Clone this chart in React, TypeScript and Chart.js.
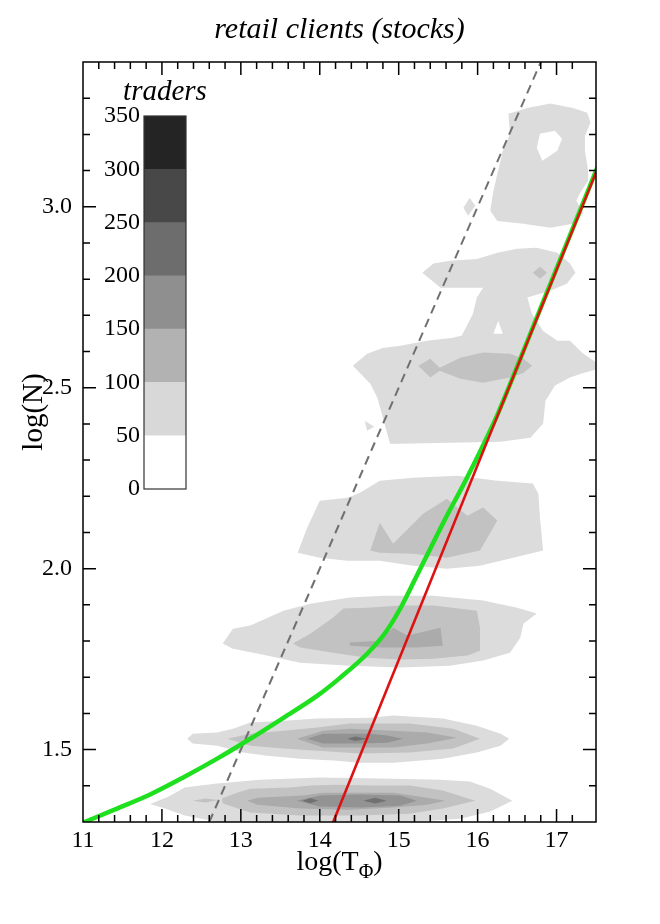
import React, { useEffect, useRef } from 'react';
import { Chart, registerables } from 'chart.js';

Chart.register(...registerables);

const FONT = "'Liberation Serif', 'Times New Roman', serif";

// axes
const X_MIN = 11;
const X_MAX = 17.5;
const Y_MIN = 1.3;
const Y_MAX = 3.4;
const X_STEP = 0.2;
const Y_STEP = 0.1;
const X_MAJOR = 1;
const Y_MAJOR = 0.5;

const TITLE = 'retail clients (stocks)';
const X_LABEL_MAIN = 'log(T';
const X_LABEL_SUB = 'Φ';
const X_LABEL_END = ')';
const Y_LABEL = 'log(N)';
const COLORBAR_TITLE = 'traders';

// contour level fills (index = level, 0 = empty/hole)
const LEVEL_COLORS = ['#ffffff', '#dcdcdc', '#c2c2c2', '#ababab', '#939393', '#717171'];

// colour bar
const CB_EDGES = [0, 50, 100, 150, 200, 250, 300, 350];
const CB_COLORS = ['#ffffff', '#d8d8d8', '#b2b2b2', '#8f8f8f', '#6d6d6d', '#484848', '#242424'];

type P = [number, number];

// ---- band near log N = 1.36
const b1L1: P[] = [[11.85,1.350],[12.08,1.370],[12.29,1.395],[12.67,1.406],[13.24,1.417],[14.00,1.423],[14.76,1.420],[15.52,1.417],[15.90,1.412],[16.16,1.392],[16.44,1.359],[16.16,1.329],[15.78,1.309],[15.02,1.298],[13.75,1.296],[12.76,1.298],[12.29,1.318],[12.04,1.337]];
const b1L2: P[] = [[12.76,1.365],[12.95,1.381],[13.12,1.392],[13.62,1.395],[13.88,1.401],[14.22,1.403],[14.64,1.401],[15.14,1.401],[15.56,1.387],[15.97,1.359],[15.56,1.337],[15.14,1.323],[14.51,1.318],[13.75,1.318],[13.12,1.326],[12.77,1.351]];
const b1L2tail: P[] = [[12.39,1.359],[12.55,1.365],[12.72,1.361],[12.55,1.354]];
const b1L3: P[] = [[13.08,1.359],[13.21,1.367],[13.79,1.373],[14.04,1.381],[14.38,1.381],[14.93,1.381],[15.36,1.367],[15.59,1.359],[15.36,1.348],[14.93,1.340],[14.38,1.334],[13.75,1.337],[13.21,1.348]];
const b1L4: P[] = [[13.71,1.359],[14.00,1.373],[14.51,1.376],[15.02,1.373],[15.23,1.359],[15.02,1.345],[14.51,1.340],[14.00,1.343]];
const b1L5a: P[] = [[13.78,1.359],[13.88,1.366],[13.98,1.359],[13.88,1.352]];
const b1L5b: P[] = [[14.55,1.359],[14.70,1.367],[14.85,1.359],[14.70,1.351]];

// ---- band near log N = 1.53
const b2L1: P[] = [[12.32,1.530],[12.39,1.544],[12.70,1.547],[12.90,1.558],[13.12,1.575],[13.54,1.580],[13.97,1.586],[14.64,1.588],[14.93,1.594],[15.56,1.586],[15.99,1.566],[16.29,1.544],[16.40,1.530],[16.29,1.511],[15.99,1.492],[15.56,1.475],[14.93,1.464],[14.51,1.464],[14.17,1.470],[13.75,1.475],[13.33,1.483],[13.03,1.492],[12.70,1.511],[12.39,1.517]];
const b2L2: P[] = [[12.83,1.530],[13.12,1.544],[13.54,1.552],[13.97,1.561],[14.38,1.572],[15.14,1.572],[15.69,1.558],[16.03,1.530],[15.69,1.503],[15.14,1.492],[14.51,1.489],[13.97,1.497],[13.54,1.503],[13.12,1.511]];
const b2L3: P[] = [[13.71,1.530],[14.04,1.552],[14.38,1.558],[14.93,1.552],[15.36,1.547],[15.74,1.533],[15.36,1.517],[14.93,1.506],[14.51,1.506],[14.04,1.506]];
const b2L4: P[] = [[13.84,1.530],[14.04,1.544],[14.64,1.544],[14.85,1.539],[15.06,1.530],[14.85,1.519],[14.51,1.517],[14.04,1.517]];
const b2L5: P[] = [[14.35,1.530],[14.45,1.536],[14.60,1.530],[14.45,1.524]];

// ---- band near log N = 1.8
const b3L1: P[] = [[12.77,1.793],[12.90,1.834],[13.12,1.843],[13.54,1.884],[13.88,1.903],[14.38,1.920],[14.80,1.925],[15.44,1.925],[16.07,1.912],[16.50,1.892],[16.75,1.876],[16.58,1.848],[16.54,1.809],[16.41,1.768],[16.07,1.746],[15.65,1.732],[15.02,1.727],[14.38,1.732],[13.75,1.740],[13.33,1.760],[12.90,1.779]];
const b3L2: P[] = [[13.66,1.793],[13.88,1.820],[14.17,1.865],[14.30,1.890],[14.60,1.892],[15.02,1.898],[15.44,1.898],[15.99,1.884],[16.03,1.837],[16.03,1.773],[15.87,1.760],[15.44,1.751],[15.02,1.749],[14.60,1.754],[14.17,1.768],[13.75,1.782]];
const b3L3: P[] = [[14.38,1.796],[14.76,1.801],[14.93,1.837],[15.11,1.815],[15.53,1.837],[15.56,1.787],[15.23,1.782],[14.80,1.782],[14.38,1.787]];

// ---- band near log N = 2.1
const b4L1: P[] = [[13.72,2.044],[13.84,2.113],[14.00,2.188],[14.35,2.196],[14.51,2.210],[14.76,2.243],[15.18,2.251],[15.74,2.257],[16.25,2.243],[16.70,2.235],[16.77,2.207],[16.79,2.141],[16.83,2.050],[16.45,2.030],[16.03,2.008],[15.61,2.000],[15.18,2.008],[14.76,2.022],[14.35,2.022],[14.00,2.030]];
const b4L2: P[] = [[14.64,2.050],[14.76,2.127],[14.93,2.069],[15.31,2.152],[15.61,2.193],[15.87,2.146],[16.07,2.169],[16.25,2.133],[16.03,2.050],[15.61,2.030],[15.18,2.041],[14.76,2.044]];

// ---- region 2.35 .. 2.9
const midL1: P[] = [[15.30,2.818],[15.44,2.843],[15.65,2.851],[15.99,2.856],[16.25,2.873],[16.50,2.884],[16.75,2.887],[17.01,2.873],[17.17,2.843],[17.24,2.818],[17.13,2.787],[16.92,2.768],[16.63,2.749],[16.69,2.704],[16.83,2.657],[17.01,2.630],[17.17,2.630],[17.34,2.594],[17.53,2.566],[17.53,2.552],[17.34,2.541],[17.17,2.528],[16.98,2.506],[16.86,2.464],[16.83,2.401],[16.67,2.362],[16.29,2.351],[15.65,2.348],[15.02,2.345],[14.89,2.345],[14.80,2.417],[14.73,2.472],[14.64,2.511],[14.42,2.561],[14.60,2.594],[14.80,2.610],[15.02,2.616],[15.36,2.630],[15.69,2.638],[15.80,2.644],[15.94,2.704],[15.99,2.749],[16.07,2.776],[15.53,2.776]];
const midHole: P[] = [[16.26,2.685],[16.20,2.649],[16.32,2.649]];
const midSpeck: P[] = [[14.57,2.409],[14.69,2.392],[14.60,2.381]];
const midL2: P[] = [[15.25,2.561],[15.40,2.580],[15.52,2.555],[15.78,2.583],[16.07,2.597],[16.41,2.594],[16.58,2.580],[16.69,2.561],[16.58,2.541],[16.41,2.528],[16.07,2.514],[15.78,2.525],[15.52,2.547],[15.40,2.528]];
const midL2dot: P[] = [[16.70,2.818],[16.79,2.834],[16.88,2.818],[16.79,2.801]];

// ---- region 2.95 .. 3.3
const topL1: P[] = [[16.39,3.257],[16.63,3.273],[16.92,3.285],[17.21,3.273],[17.39,3.260],[17.43,3.232],[17.36,3.196],[17.36,3.155],[17.40,3.100],[17.40,3.072],[17.30,3.039],[17.25,3.017],[17.34,2.983],[17.21,2.953],[16.92,2.942],[16.58,2.953],[16.25,2.961],[16.16,2.989],[16.20,3.044],[16.32,3.155],[16.41,3.202]];
const topHole: P[] = [[16.79,3.202],[16.98,3.210],[17.07,3.188],[17.01,3.155],[16.82,3.127],[16.75,3.163]];
const topSpeck: P[] = [[15.82,2.997],[15.90,3.025],[15.97,3.003],[15.88,2.975]];

// drawing order, bottom first: [polygon, level]
const CONTOURS: [P[], number][] = [
  [b1L1, 1], [b1L2, 2], [b1L2tail, 2], [b1L3, 3], [b1L4, 4], [b1L5a, 5], [b1L5b, 5],
  [b2L1, 1], [b2L2, 2], [b2L3, 3], [b2L4, 4], [b2L5, 5],
  [b3L1, 1], [b3L2, 2], [b3L3, 3],
  [b4L1, 1], [b4L2, 2],
  [midL1, 1], [midHole, 0], [midSpeck, 1], [midL2, 2], [midL2dot, 2],
  [topL1, 1], [topHole, 0], [topSpeck, 1],
];

// lines
const dashedLine: P[] = [[12.6, 1.3], [16.8, 3.4]];
const redLine: P[] = [[14.17, 1.3], [17.5, 3.095]];
const greenCurve: P[] = [[11.0,1.298],[11.43,1.337],[11.85,1.376],[12.27,1.423],[12.70,1.475],[13.12,1.530],[13.54,1.588],[13.97,1.649],[14.26,1.699],[14.60,1.765],[14.83,1.823],[15.02,1.890],[15.21,1.972],[15.40,2.055],[15.61,2.146],[15.82,2.232],[16.03,2.323],[16.25,2.425],[16.44,2.525],[16.79,2.716],[17.17,2.921],[17.52,3.110]];

const isMult = (v: number, m: number) => Math.abs(v / m - Math.round(v / m)) < 1e-6;
const toXY = (pts: P[]) => pts.map(([x, y]) => ({ x, y }));

const decorPlugin = {
  id: 'decor',
  afterDatasetsDraw(chart: any) {
    const { ctx, chartArea: a, scales } = chart;
    const xs = scales.x;
    const ys = scales.y;
    ctx.save();
    ctx.strokeStyle = '#000';
    ctx.lineWidth = 1.5;
    ctx.beginPath();
    xs.ticks.forEach((t: any) => {
      const px = xs.getPixelForValue(t.value);
      if (px <= a.left + 1 || px >= a.right - 1) return;
      const len = isMult(t.value, X_MAJOR) ? 13 : 7;
      ctx.moveTo(px, a.bottom); ctx.lineTo(px, a.bottom - len);
      ctx.moveTo(px, a.top); ctx.lineTo(px, a.top + len);
    });
    ys.ticks.forEach((t: any) => {
      const py = ys.getPixelForValue(t.value);
      if (py <= a.top + 1 || py >= a.bottom - 1) return;
      const len = isMult(t.value, Y_MAJOR) ? 13 : 7;
      ctx.moveTo(a.left, py); ctx.lineTo(a.left + len, py);
      ctx.moveTo(a.right, py); ctx.lineTo(a.right - len, py);
    });
    ctx.stroke();
    ctx.strokeRect(a.left, a.top, a.right - a.left, a.bottom - a.top);

    ctx.fillStyle = '#000';
    // title
    ctx.font = `italic 30px ${FONT}`;
    ctx.textAlign = 'center';
    ctx.textBaseline = 'alphabetic';
    const cx = (a.left + a.right) / 2;
    ctx.fillText(TITLE, cx, 38);

    // x label with subscript
    ctx.textAlign = 'left';
    ctx.font = `28px ${FONT}`;
    const w1 = ctx.measureText(X_LABEL_MAIN).width;
    const w3 = ctx.measureText(X_LABEL_END).width;
    ctx.font = `20px ${FONT}`;
    const w2 = ctx.measureText(X_LABEL_SUB).width;
    let x0 = cx - (w1 + w2 + w3) / 2;
    const base = 870;
    ctx.font = `28px ${FONT}`;
    ctx.fillText(X_LABEL_MAIN, x0, base);
    x0 += w1;
    ctx.font = `20px ${FONT}`;
    ctx.fillText(X_LABEL_SUB, x0, base + 8);
    x0 += w2;
    ctx.font = `28px ${FONT}`;
    ctx.fillText(X_LABEL_END, x0, base);

    // y label
    ctx.save();
    ctx.translate(34, 412);
    ctx.rotate(-Math.PI / 2);
    ctx.textAlign = 'center';
    ctx.textBaseline = 'middle';
    ctx.font = `29px ${FONT}`;
    ctx.fillText(Y_LABEL, 0, 0);
    ctx.restore();
    ctx.restore();
  },
};

const colorbarPlugin = {
  id: 'cbDecor',
  afterDraw(chart: any) {
    const { ctx, chartArea: a } = chart;
    ctx.save();
    ctx.strokeStyle = '#333';
    ctx.lineWidth = 1.2;
    ctx.strokeRect(a.left, a.top, a.right - a.left, a.bottom - a.top);
    ctx.fillStyle = '#000';
    ctx.font = `italic 29px ${FONT}`;
    ctx.textAlign = 'center';
    ctx.textBaseline = 'alphabetic';
    ctx.fillText(COLORBAR_TITLE, (a.left + a.right) / 2, a.top - 16);
    ctx.restore();
  },
};

export default function App() {
  const mainRef = useRef<HTMLCanvasElement>(null);
  const cbRef = useRef<HTMLCanvasElement>(null);

  useEffect(() => {
    const polys = CONTOURS.map(([pts, level]) => ({
      data: toXY(pts),
      showLine: true,
      fill: 'shape',
      backgroundColor: LEVEL_COLORS[level],
      borderColor: 'rgba(0,0,0,0)',
      borderWidth: 0,
      pointRadius: 0,
      pointHoverRadius: 0,
      tension: 0,
    }));
    const lines = [
      { data: toXY(dashedLine), showLine: true, fill: false, borderColor: '#707070', borderWidth: 2, borderDash: [9, 6], pointRadius: 0, tension: 0 },
      { data: toXY(greenCurve), showLine: true, fill: false, borderColor: '#1fe01f', borderWidth: 4.5, pointRadius: 0, tension: 0.3, cubicInterpolationMode: 'monotone' },
      { data: toXY(redLine), showLine: true, fill: false, borderColor: '#dd1111', borderWidth: 2.6, pointRadius: 0, tension: 0 },
    ];
    const all: any[] = [...polys, ...lines];
    const n = all.length;
    all.forEach((d, i) => { d.order = n - i; });

    const tickFont = { family: FONT, size: 24 };
    const main = new Chart(mainRef.current as HTMLCanvasElement, {
      type: 'scatter',
      data: { datasets: all },
      options: {
        responsive: false,
        animation: false,
        events: [],
        layout: { padding: { top: 62, right: 64, left: 0, bottom: 0 } },
        plugins: { legend: { display: false }, tooltip: { enabled: false } },
        scales: {
          x: {
            type: 'linear', min: X_MIN, max: X_MAX,
            grid: { display: false, drawTicks: false },
            border: { display: false },
            ticks: {
              stepSize: X_STEP, autoSkip: false, maxRotation: 0, padding: 4,
              font: tickFont, color: '#000',
              callback: (v: any) => (isMult(Number(v), X_MAJOR) ? String(Math.round(Number(v))) : ''),
            },
            afterFit: (s: any) => { s.height = 102; },
          },
          y: {
            type: 'linear', min: Y_MIN, max: Y_MAX,
            grid: { display: false, drawTicks: false },
            border: { display: false },
            ticks: {
              stepSize: Y_STEP, autoSkip: false, padding: 11,
              font: tickFont, color: '#000',
              callback: (v: any) => (isMult(Number(v), Y_MAJOR) ? Number(v).toFixed(1) : ''),
            },
            afterFit: (s: any) => { s.width = 83; },
          },
        },
      } as any,
      plugins: [decorPlugin],
    });

    const cb = new Chart(cbRef.current as HTMLCanvasElement, {
      type: 'bar',
      data: {
        labels: [''],
        datasets: CB_COLORS.map((c, i) => ({
          data: [CB_EDGES[i + 1] - CB_EDGES[i]],
          backgroundColor: c,
          borderWidth: 0,
          barPercentage: 1,
          categoryPercentage: 1,
        })),
      },
      options: {
        responsive: false,
        animation: false,
        events: [],
        layout: { padding: { top: 56, right: 44, bottom: 41, left: 0 } },
        plugins: { legend: { display: false }, tooltip: { enabled: false } },
        scales: {
          x: { stacked: true, display: false },
          y: {
            stacked: true, min: CB_EDGES[0], max: CB_EDGES[CB_EDGES.length - 1],
            grid: { display: false, drawTicks: false },
            border: { display: false },
            ticks: { stepSize: 50, padding: 4, font: tickFont, color: '#000' },
            afterFit: (s: any) => { s.width = 54; },
          },
        },
      } as any,
      plugins: [colorbarPlugin],
    });

    return () => {
      main.destroy();
      cb.destroy();
    };
  }, []);

  return (
    <div style={{ position: 'absolute', left: 0, top: 0, width: 660, height: 924, background: '#fff' }}>
      <canvas ref={mainRef} width={660} height={924} style={{ position: 'absolute', left: 0, top: 0, width: 660, height: 924 }} />
      <canvas ref={cbRef} width={140} height={470} style={{ position: 'absolute', left: 90, top: 60, width: 140, height: 470 }} />
    </div>
  );
}
